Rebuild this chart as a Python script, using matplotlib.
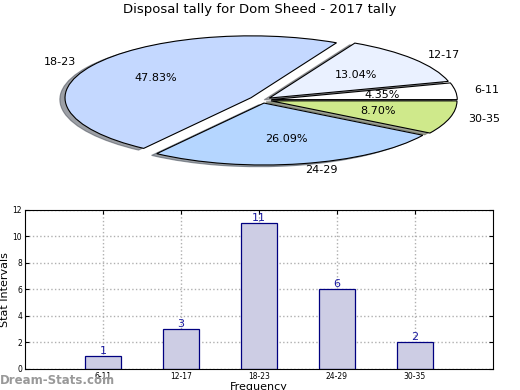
import numpy as np
import matplotlib
matplotlib.use('Agg')
import matplotlib.pyplot as plt

# data
groups = ['6-11', '12-17', '18-23', '24-29', '30-35']
counts = [1, 3, 11, 6, 2]
pie_colors = ['#ffffff', '#eaf1ff', '#c4d8ff', '#b5d6ff', '#cfe98b']
explode = [0.05, 0.05, 0.07, 0.05, 0.05]

fig = plt.figure(figsize=(5.2, 3.9), dpi=100)

# pie (squashed to look tilted)
ax1 = fig.add_axes([0.057, 0.545, 0.894, 0.397])
wedges, texts, autotexts = ax1.pie(counts, labels=groups, colors=pie_colors,
                                   explode=explode, autopct='%1.2f%%',
                                   pctdistance=0.6, labeldistance=1.1,
                                   startangle=0, shadow=True,
                                   wedgeprops={'linewidth': 0.8, 'edgecolor': 'black'},
                                   textprops={'fontsize': 8})
ax1.set_aspect('auto')
ax1.set_xlim(-1.25, 1.25)
ax1.set_ylim(-1.25, 1.25)
fig.text(0.5, 0.975, 'Disposal tally for Dom Sheed - 2017 tally', ha='center', va='center', fontsize=9.5)

# bar chart
ax2 = fig.add_axes([0.048, 0.054, 0.9, 0.408])
x = np.arange(1, len(groups) + 1)
ax2.bar(x, counts, width=0.46, color='#cdcde4', edgecolor='#000080', linewidth=0.9, zorder=2)
for xi, c in zip(x, counts):
    ax2.text(xi, c, str(c), ha='center', va='bottom', color='#1a1aa0', fontsize=8)
ax2.set_xlim(0, 6)
ax2.set_ylim(0, 12)
ax2.set_xticks(x)
ax2.set_xticklabels(groups, fontsize=5.5)
ax2.set_yticks(range(0, 13, 2))
ax2.tick_params(axis='y', labelsize=5.5)
ax2.tick_params(direction='in', length=3, top=True, right=True, pad=2)
ax2.grid(True, linestyle=':', color='#b0b0b0', linewidth=1)
ax2.set_axisbelow(True)
ax2.set_ylabel('Stat Intervals', fontsize=8, labelpad=2)
ax2.set_xlabel('Frequency', fontsize=8, labelpad=1)

# watermark
fig.text(0.0, 0.025, 'Dream-Stats.com', fontsize=8.5, fontweight='bold', color='#999999', ha='left', va='center')

plt.savefig('out.png', dpi=100)
